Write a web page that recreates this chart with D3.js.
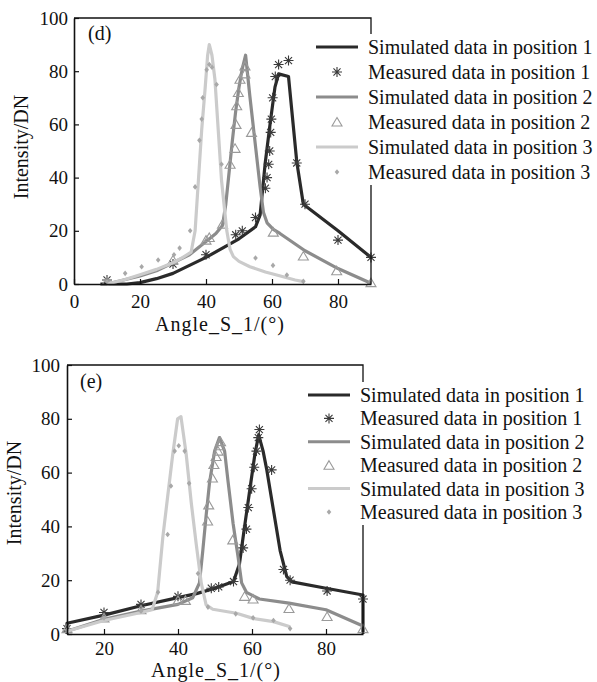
<!DOCTYPE html>
<html>
<head>
<meta charset="utf-8">
<script src="https://cdn.jsdelivr.net/npm/d3@7"></script>
<style>
  body { margin: 0; background: #fff; }
  svg text { font-family: "Liberation Serif", "Times New Roman", serif !important; fill: #111; }
</style>
</head>
<body>
<div id="chart"></div>
<script>
// chart.js

const W = 597;
const H = 682;

// ---- data, panel (d) : [angle, intensity]
const simD1 = [[8,0],[12,0],[16,0],[20,0.5],[25,2],[30,4],[35,7],[40,10],[45,13.5],[50,17],[55,21.5],[56.4,26],[57.9,45],[59.4,60],[60.9,74],[62,79],[65,78],[67.5,46],[69.5,30],[80,20],[90,10]];
const measD1 = [[10,1.5],[30,7.5],[40,11],[49,18.5],[51,20],[55,25],[58,36],[58.5,40],[59,45],[59.3,50],[59.6,57],[59.8,62],[60.2,70],[61,78],[62,82.5],[65,84],[67.5,45.5],[70,30],[80,16.5],[90,10]];
const simD2 = [[10,0],[15,1.5],[20,3],[25,5],[30,8],[35,11],[40,16],[43,19],[45,22],[46,30],[47,42],[48,54],[49,65],[50,74],[51,81],[52,86],[53.3,70.5],[54.8,54],[56.4,36.5],[57.4,27],[58.5,23],[60.4,20.5],[62.4,19],[70,12.5],[80,5.8],[90,0.3]];
const measD2 = [[10,1],[30,9],[40,16.5],[41,17.5],[45,22.5],[47.3,45],[48.8,51],[49.1,60],[49.3,67],[49.8,72],[50.3,77],[51.8,79],[51.8,82],[53.8,57],[60.4,19.5],[69.5,10.5],[79.6,5],[90,0.5]];
const simD3 = [[10,0],[15,1.5],[20,3.5],[25,5.5],[30,8],[33,10],[35.5,12],[36.7,20],[37.7,39],[38.7,58],[39.7,73],[40.5,86],[41,90],[41.8,86],[42.7,77],[43.7,58],[44.7,39],[46.3,20],[47.3,13],[48.3,10.3],[50,8.5],[53.3,6.5],[58,4.5],[63.4,2.7],[67,1.5],[69.5,0.9]];
const measD3 = [[10,1],[15.5,4],[20.5,6.5],[25.5,9],[30.3,11],[32,13.5],[35.2,20],[36.7,36.5],[38,54],[38.7,62],[39,70],[40.2,80.5],[41,82.5],[41.8,81.5],[43.2,75],[44.7,45],[55,9.8],[60.3,7],[64.5,3.4],[69.5,1]];

// ---- data, panel (e)
const simE1 = [[10,0],[10,4],[20,7],[30,10.5],[40,13.5],[45,15],[50,17],[55,19.5],[56.6,26],[58,40],[59.4,53.5],[60.8,67],[61.8,74],[63,68],[64,61],[65.8,46],[67.6,31],[69.4,21.3],[70.8,19.4],[80,17],[90,14.5],[90,0]];
const measE1 = [[10,2],[20,8],[30,11],[40,14],[49,17],[51,17.5],[55,19.5],[57.6,32],[58.5,39],[59,47],[59.9,54],[60.6,62],[61.2,68],[61.7,73],[62,76],[65.3,61],[68.5,24],[70.3,20],[80.3,16],[90,13]];
const simE2 = [[10,1],[20,5.5],[30,8.5],[40,11],[44,13.5],[45.8,19],[46.7,31],[47.6,44],[48.5,56],[49.9,68],[51.2,73],[52.6,68],[53.5,57],[54.9,41],[56.2,29],[57.2,19],[58.5,15.5],[62,13],[70,11.5],[80,9],[90,3]];
const measE2 = [[10,2],[20,6],[30,9],[40,12.5],[42,12.5],[48,42],[48.3,48],[49.3,58],[49.7,63],[50.3,66],[50.8,68],[51.2,70],[51.5,71.5],[54.8,35],[58,14],[60.3,13],[70,9.5],[80.3,6.5],[90,2]];
const simE3 = [[10,1],[20,5],[30,8],[33,9],[34.5,15.5],[35.9,36],[37.2,51],[38.6,67],[39.9,80],[40.8,80.8],[42.2,67],[43.6,48.6],[44.9,33.7],[46.3,18.8],[47.6,10.8],[49.4,9.2],[55.8,7.7],[60.3,5.8],[65.8,4.6],[70.3,2.7]];
const measE3 = [[10,1.5],[20,6],[30,8.5],[34.6,15.5],[37.2,37],[38.1,55],[39.1,68],[40.2,70],[41.8,68],[43,56],[45.4,22.5],[48.1,10],[55.6,7.5],[60.3,6],[65.8,5],[70.3,2]];

const legendLabels = [
    "Simulated data in position 1", "Measured data in position 1",
    "Simulated data in position 2", "Measured data in position 2",
    "Simulated data in position 3", "Measured data in position 3"
];
const yTicks = [0, 20, 40, 60, 80, 100];

const lineColors = ["#2a2a2a", "#8c8c8c", "#cbcbcb"];
const serif = "'Liberation Serif', 'Times New Roman', serif";

const svg = d3.select("#chart")
    .append("svg")
    .attr("width", W)
    .attr("height", H)
    .attr("font-family", serif);

// 4-line asterisk path
function asterisk(r) {
    let p = "";
    for (let k = 0; k < 4; k++) {
        const a = k * Math.PI / 4;
        const dx = r * Math.cos(a), dy = r * Math.sin(a);
        p += `M${-dx},${-dy}L${dx},${dy}`;
    }
    return p;
}
const triPath = "M0,-4.5L5,4L-5,4Z";
const diaPath = "M0,-2.8L2.3,0L0,2.8L-2.3,0Z";

function drawMarkers(g, data, kind, x, y) {
    const sel = g.append("g").selectAll("path")
        .data(data)
        .join("path")
        .attr("transform", d => `translate(${x(d[0])},${y(d[1])})`);
    styleMarker(sel, kind);
}

function styleMarker(sel, kind) {
    if (kind === 0) {
        sel.attr("d", asterisk(5)).attr("stroke", "#3a3a3a").attr("stroke-width", 1.1).attr("fill", "none");
    } else if (kind === 1) {
        sel.attr("d", triPath).attr("stroke", "#9a9a9a").attr("stroke-width", 1.1).attr("fill", "none");
    } else {
        sel.attr("d", diaPath).attr("fill", "#a8a8a8");
    }
}

function panel(opt) {
    const g = svg.append("g");
    const x = d3.scaleLinear().domain(opt.xDomain).range([opt.left, opt.right]);
    const y = d3.scaleLinear().domain([0, 100]).range([opt.bottom, opt.top]);

    const line = d3.line().x(d => x(d[0])).y(d => y(d[1]));

    // series
    opt.sims.forEach((s, i) => {
        g.append("path")
            .datum(s)
            .attr("d", line)
            .attr("fill", "none")
            .attr("stroke", lineColors[i])
            .attr("stroke-width", 3.2)
            .attr("stroke-linejoin", "round");
        drawMarkers(g, opt.meas[i], i, x, y);
    });

    // frame
    g.append("path")
        .attr("d", `M${opt.left},${opt.top}H${opt.right}V${opt.bottom}`)
        .attr("fill", "none")
        .attr("stroke", "#111")
        .attr("stroke-width", 1.3);

    // axes (inward ticks)
    const xAxis = g.append("g")
        .attr("transform", `translate(0,${opt.bottom})`)
        .call(d3.axisBottom(x).tickValues(opt.xTicks).tickSize(-5).tickSizeOuter(0).tickPadding(opt.xPad));
    const yAxis = g.append("g")
        .attr("transform", `translate(${opt.left},0)`)
        .call(d3.axisLeft(y).tickValues(yTicks).tickSize(-5).tickSizeOuter(0).tickPadding(opt.yPad));

    [xAxis, yAxis].forEach(a => {
        a.attr("font-family", serif).attr("font-size", 19);
        a.select(".domain").attr("stroke", "#111").attr("stroke-width", 1.6);
        a.selectAll(".tick line").attr("stroke", "#111").attr("stroke-width", 1.2);
        a.selectAll(".tick text").attr("fill", "#111");
    });

    // titles
    g.append("text")
        .attr("x", opt.xTitle[0])
        .attr("y", opt.xTitle[1])
        .attr("text-anchor", "middle")
        .attr("font-size", 20)
        .attr("letter-spacing", 1)
        .text("Angle_S_1/(°)");

    g.append("text")
        .attr("transform", `translate(${opt.yTitle[0]},${opt.yTitle[1]}) rotate(-90)`)
        .attr("text-anchor", "middle")
        .attr("dominant-baseline", "central")
        .attr("font-size", 20)
        .text("Intensity/DN");

    g.append("text")
        .attr("x", opt.tag[0])
        .attr("y", opt.tag[1])
        .attr("font-size", 20)
        .text(opt.tagText);

    // legend with white background over the right border
    const lg = g.append("g");
    lg.append("rect")
        .attr("x", opt.legend.x0 - 6)
        .attr("y", opt.legend.y0 - 13)
        .attr("width", W - opt.legend.x0 + 6)
        .attr("height", opt.legend.step * 5 + 26)
        .attr("fill", "#fff");

    legendLabels.forEach((label, i) => {
        const ly = opt.legend.y0 + i * opt.legend.step;
        const s = Math.floor(i / 2);
        if (i % 2 === 0) {
            lg.append("line")
                .attr("x1", opt.legend.x0).attr("x2", opt.legend.x0 + 42)
                .attr("y1", ly).attr("y2", ly)
                .attr("stroke", lineColors[s])
                .attr("stroke-width", 3);
        } else {
            const m = lg.append("path")
                .attr("transform", `translate(${opt.legend.x0 + 21},${ly})`);
            styleMarker(m, s);
        }
        lg.append("text")
            .attr("x", opt.legend.tx)
            .attr("y", ly)
            .attr("dominant-baseline", "central")
            .attr("font-size", 20)
            .text(label);
    });
}

// Panel (d)
panel({
    xDomain: [0, 90], left: 74, right: 371, top: 18, bottom: 284,
    xTicks: [0, 20, 40, 60, 80], xPad: 11, yPad: 6,
    sims: [simD1, simD2, simD3], meas: [measD1, measD2, measD3],
    xTitle: [220, 331], yTitle: [21, 147], tag: [88, 40], tagText: "(d)",
    legend: { x0: 316, tx: 368, y0: 47, step: 25 }
});

// Panel (e)
panel({
    xDomain: [10, 90], left: 67, right: 363, top: 365, bottom: 634,
    xTicks: [20, 40, 60, 80], xPad: 8, yPad: 7,
    sims: [simE1, simE2, simE3], meas: [measE1, measE2, measE3],
    xTitle: [216, 677], yTitle: [14, 493], tag: [80, 388], tagText: "(e)",
    legend: { x0: 308, tx: 360, y0: 395, step: 23.4 }
});
</script>
</body>
</html>
